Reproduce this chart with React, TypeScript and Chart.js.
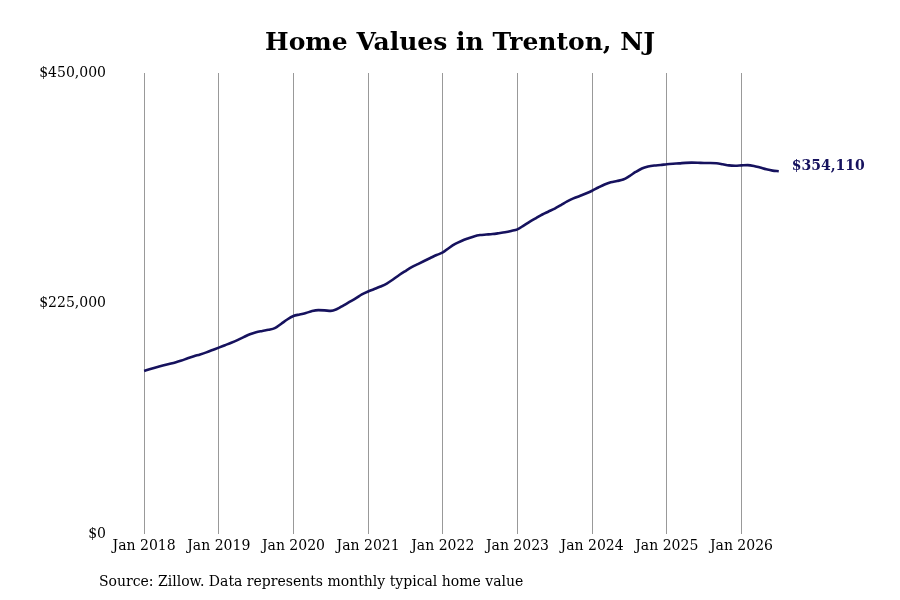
import { useEffect, useRef } from "react";
import { Chart, registerables } from "chart.js";

Chart.register(...registerables);

// monthly typical home value, Jan 2018 .. Jul 2026 (in dollars)
const v2018 = [159100, 161000, 162800, 164400, 165900, 167400, 169300, 171500, 173500, 175300, 177300, 179600];
const v2019 = [181900, 184300, 186700, 189300, 192200, 195000, 197000, 198200, 199300, 200900, 205000, 209400];
const v2020 = [212800, 214300, 215700, 217600, 218500, 218300, 217800, 219600, 223000, 226500, 229900, 233800];
const v2021 = [236700, 239100, 241600, 244500, 248400, 252800, 256700, 260400, 263500, 266500, 269400, 272300];
const v2022 = [274800, 279200, 283100, 286000, 288400, 290500, 291800, 292300, 292800, 293600, 294500, 295800];
const v2023 = [297400, 301100, 305000, 308400, 311900, 314800, 317700, 321100, 324600, 327600, 329900, 332400];
const v2024 = [335100, 338200, 341100, 343300, 344600, 346000, 349400, 353400, 356800, 358700, 359700, 360200];
const v2025 = [360900, 361400, 361800, 362300, 362500, 362400, 362100, 362100, 361900, 360900, 359800, 359500];
const v2026 = [359800, 360100, 359300, 357700, 356000, 354700, 354110];

const xTickLabels = ["Jan 2018", "Jan 2019", "Jan 2020", "Jan 2021", "Jan 2022", "Jan 2023", "Jan 2024", "Jan 2025", "Jan 2026"];
const yTicks = [0, 225000, 450000];

const titleText = "Home Values in Trenton, NJ";
const sourceText = "Source: Zillow. Data represents monthly typical home value";

const LINE_COLOR = "#16125e";
const FONT = "'DejaVu Serif', serif";

const fmt = (v: number) => "$" + v.toLocaleString("en-US");

export default function App() {
  const chartRef = useRef<HTMLCanvasElement>(null);
  const chartInstance = useRef<Chart | null>(null);

  useEffect(() => {
    if (!chartRef.current) return;
    if (chartInstance.current) chartInstance.current.destroy();
    const ctx = chartRef.current.getContext("2d");
    if (!ctx) return;

    const values = [...v2018, ...v2019, ...v2020, ...v2021, ...v2022, ...v2023, ...v2024, ...v2025, ...v2026];
    const points = values.map((v, i) => ({ x: i, y: v }));

    const textPlugin = {
      id: "texts",
      afterDraw(chart: Chart) {
        const c = chart.ctx;
        c.save();
        c.fillStyle = "#000";
        c.font = `bold 25px ${FONT}`;
        c.textAlign = "center";
        c.textBaseline = "middle";
        c.fillText(titleText, 460, 43);

        c.font = `14px ${FONT}`;
        c.textAlign = "left";
        c.fillStyle = "#000";
        c.fillText(sourceText, 99, 582);

        const meta = chart.getDatasetMeta(0);
        const last = meta.data[meta.data.length - 1];
        c.font = `bold 14px ${FONT}`;
        c.fillStyle = LINE_COLOR;
        c.fillText(fmt(values[values.length - 1]), last.x + 13, last.y - 5);
        c.restore();
      },
    };

    chartInstance.current = new Chart(ctx, {
      type: "line",
      data: {
        datasets: [{
          data: points,
          borderColor: LINE_COLOR,
          borderWidth: 2.6,
          pointRadius: 0,
          cubicInterpolationMode: "monotone",
          fill: false,
        }],
      },
      options: {
        responsive: false,
        animation: false,
        layout: { padding: { top: 73, right: 115, bottom: 0, left: 0 } },
        plugins: {
          legend: { display: false },
          tooltip: { enabled: false },
        },
        scales: {
          x: {
            type: "linear",
            min: -5,
            max: 103,
            afterFit: (scale: any) => { scale.height = 66; },
            afterBuildTicks: (scale: any) => {
              scale.ticks = xTickLabels.map((_, i) => ({ value: i * 12 }));
            },
            border: { display: false },
            grid: { color: "#999", lineWidth: 1, drawTicks: false },
            ticks: {
              autoSkip: false,
              maxRotation: 0,
              padding: 4,
              color: "#000",
              font: { family: FONT, size: 14 },
              callback: (v: any) => xTickLabels[Math.round(Number(v) / 12)] ?? "",
            },
          },
          y: {
            min: 0,
            max: 450000,
            afterFit: (scale: any) => { scale.width = 113; },
            afterBuildTicks: (scale: any) => {
              scale.ticks = yTicks.map(v => ({ value: v }));
            },
            border: { display: false },
            grid: { display: false, drawTicks: false },
            ticks: {
              padding: 7,
              color: "#000",
              font: { family: FONT, size: 14 },
              callback: (v: any) => fmt(Number(v)),
            },
          },
        },
      },
      plugins: [textPlugin],
    });

    return () => {
      if (chartInstance.current) {
        chartInstance.current.destroy();
        chartInstance.current = null;
      }
    };
  }, []);

  return (
    <div style={{ position: "fixed", left: 0, top: 0, width: 900, height: 600, background: "#fff" }}>
      <canvas ref={chartRef} width={900} height={600} style={{ width: 900, height: 600 }}></canvas>
    </div>
  );
}
